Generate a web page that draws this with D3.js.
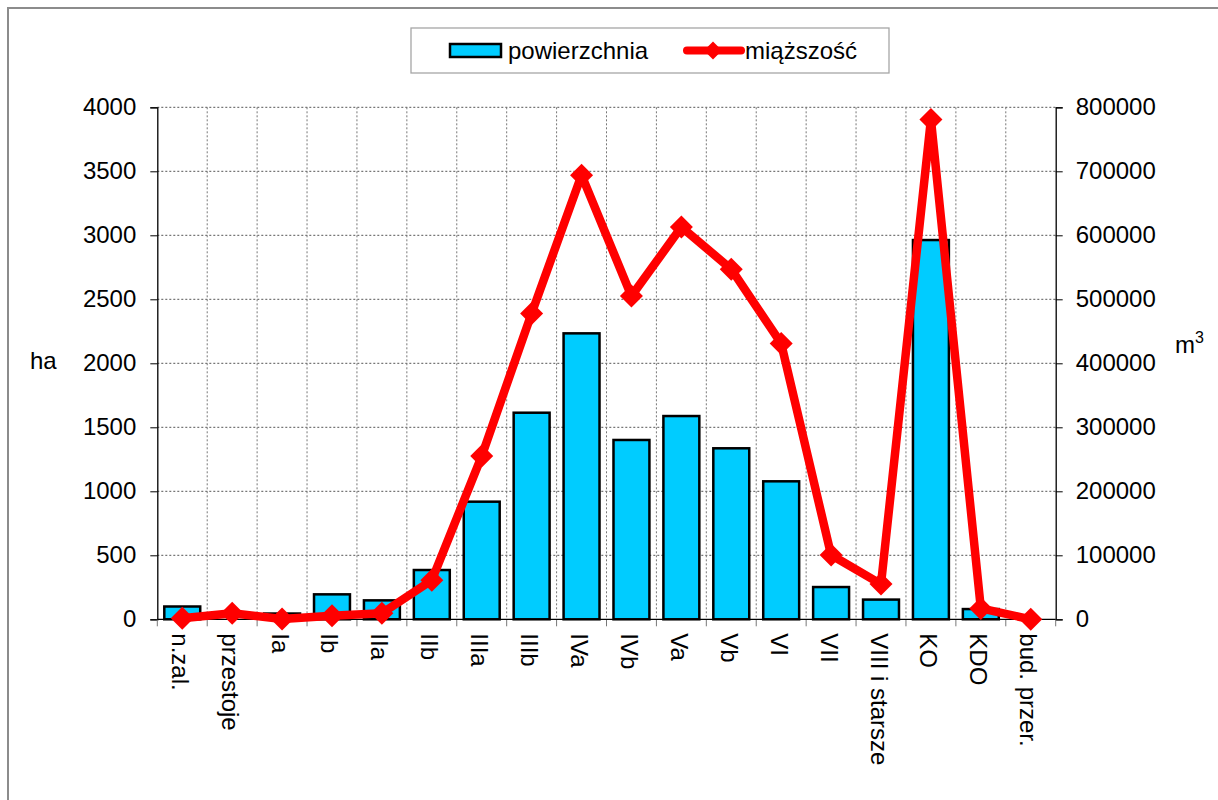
<!DOCTYPE html>
<html>
<head>
<meta charset="utf-8">
<script src="https://cdn.jsdelivr.net/npm/d3@7"></script>
<style>
  html, body { margin: 0; padding: 0; background: #fff; }
  svg { display: block; font-family: "Liberation Sans", Arial, sans-serif; }
</style>
</head>
<body>
<svg id="chart" width="1218" height="800"></svg>
<script>
// Age classes of the stand
const categories = ["n.zal.", "przestoje", "Ia", "Ib", "IIa", "IIb", "IIIa", "IIIb", "IVa",
  "IVb", "Va", "Vb", "VI", "VII", "VIII i starsze", "KO", "KDO", "bud. przer."];
// Area per class, ha
const areaHa = [100, 0, 45, 195, 148, 385, 919, 1614, 2234, 1401, 1588, 1336, 1078, 252, 154, 2963, 80, 0];
// Standing volume per class, m3
const volumeM3 = [1500, 9400, 500, 5600, 9400, 61000, 255000, 478000, 694000, 505000, 613000, 547000, 431000, 100500, 55000, 781000, 17000, 0];
// Axis ticks
const leftTicks = [0, 500, 1000, 1500, 2000, 2500, 3000, 3500, 4000];
const rightTicks = [0, 100000, 200000, 300000, 400000, 500000, 600000, 700000, 800000];
const legendLabels = ["powierzchnia", "miąższość"];

const svg = d3.select("#chart");
const plot = { left: 157.3, right: 1055.7, top: 107.3, bottom: 619.3 };
const FONT = 24;

// frame around the whole chart
svg.append("rect")
  .attr("x", 8).attr("y", 8).attr("width", 1230).attr("height", 820)
  .attr("fill", "none").attr("stroke", "#8c8c8c").attr("stroke-width", 2);

const x = d3.scaleBand().domain(categories).range([plot.left, plot.right]).padding(0);
const yL = d3.scaleLinear().domain([0, 4000]).range([plot.bottom, plot.top]);
const yR = d3.scaleLinear().domain([0, 800000]).range([plot.bottom, plot.top]);

// horizontal grid
svg.append("g").selectAll("line").data(leftTicks.filter(d => d > 0)).join("line")
  .attr("x1", plot.left).attr("x2", plot.right)
  .attr("y1", d => yL(d)).attr("y2", d => yL(d))
  .attr("stroke", "#555").attr("stroke-width", 1).attr("stroke-dasharray", "2,2");

// vertical grid at class boundaries
const bounds = categories.slice(1).map(c => x(c));
svg.append("g").selectAll("line").data(bounds).join("line")
  .attr("x1", d => d).attr("x2", d => d)
  .attr("y1", plot.top).attr("y2", plot.bottom)
  .attr("stroke", "#777").attr("stroke-width", 1).attr("stroke-dasharray", "2,2");

// left axis
const axL = svg.append("g").attr("transform", `translate(${plot.left},0)`)
  .call(d3.axisLeft(yL).tickValues(leftTicks).tickSize(7).tickPadding(14).tickFormat(d3.format("d")));
axL.select(".domain").attr("stroke", "#000").attr("stroke-width", 1.3);
axL.selectAll(".tick line").attr("stroke", "#000");
axL.selectAll("text").attr("font-size", FONT).attr("fill", "#000").attr("font-family", "Liberation Sans, Arial, sans-serif");

// right axis
const axR = svg.append("g").attr("transform", `translate(${plot.right},0)`)
  .call(d3.axisRight(yR).tickValues(rightTicks).tickSize(7).tickPadding(13).tickFormat(d3.format("d")));
axR.select(".domain").attr("stroke", "#000").attr("stroke-width", 1.3);
axR.selectAll(".tick line").attr("stroke", "#000");
axR.selectAll("text").attr("font-size", FONT).attr("fill", "#000").attr("font-family", "Liberation Sans, Arial, sans-serif");

// bottom axis: ticks at boundaries, rotated class labels
svg.append("g").selectAll("line").data([plot.left, ...bounds, plot.right]).join("line")
  .attr("x1", d => d).attr("x2", d => d)
  .attr("y1", plot.bottom).attr("y2", plot.bottom + 7)
  .attr("stroke", "#777").attr("stroke-width", 1);

svg.append("g").selectAll("text").data(categories).join("text")
  .attr("transform", d => `translate(${x(d) + x.bandwidth() / 2 - 2},${plot.bottom + 14}) rotate(90)`)
  .attr("text-anchor", "start").attr("dominant-baseline", "central")
  .attr("font-size", FONT).attr("fill", "#000")
  .text(d => d);

// bars: area
const barW = x.bandwidth() * 0.72;
svg.append("g").selectAll("rect").data(categories).join("rect")
  .attr("x", d => x(d) + (x.bandwidth() - barW) / 2)
  .attr("width", barW)
  .attr("y", (d, i) => yL(areaHa[i]))
  .attr("height", (d, i) => plot.bottom - yL(areaHa[i]))
  .attr("fill", "#00CCFF").attr("stroke", "#000").attr("stroke-width", 2.5)
  .attr("visibility", (d, i) => areaHa[i] > 0 ? "visible" : "hidden");

// x axis baseline
svg.append("line")
  .attr("x1", plot.left).attr("x2", plot.right)
  .attr("y1", plot.bottom).attr("y2", plot.bottom)
  .attr("stroke", "#000").attr("stroke-width", 1.3);

// line: volume
const cx = d => x(d) + x.bandwidth() / 2;
const line = d3.line().x(d => cx(d)).y((d, i) => yR(volumeM3[i]));
svg.append("path").datum(categories)
  .attr("d", line)
  .attr("fill", "none").attr("stroke", "#FF0000").attr("stroke-width", 8.5)
  .attr("stroke-linejoin", "round");

const diamond = r => `M0,${-r}L${r},0L0,${r}L${-r},0Z`;
svg.append("g").selectAll("path").data(categories).join("path")
  .attr("transform", (d, i) => `translate(${cx(d)},${yR(volumeM3[i])})`)
  .attr("d", diamond(11.5))
  .attr("fill", "#FF0000");

// axis titles
svg.append("text").attr("x", 30).attr("y", 369).attr("font-size", FONT).attr("fill", "#000").text("ha");
const m3 = svg.append("text").attr("x", 1175).attr("y", 353).attr("font-size", FONT).attr("fill", "#000");
m3.append("tspan").text("m");
m3.append("tspan").attr("font-size", 16).attr("dy", -10).text("3");

// legend
const lg = svg.append("g");
lg.append("rect").attr("x", 411).attr("y", 28).attr("width", 478).attr("height", 45)
  .attr("fill", "#fff").attr("stroke", "#a6a6a6").attr("stroke-width", 1.3);
lg.append("rect").attr("x", 450).attr("y", 44).attr("width", 51).attr("height", 13)
  .attr("fill", "#00CCFF").attr("stroke", "#000").attr("stroke-width", 2.5);
lg.append("text").attr("x", 508).attr("y", 59).attr("font-size", FONT).attr("fill", "#000").text(legendLabels[0]);
lg.append("line").attr("x1", 687).attr("x2", 741).attr("y1", 50.5).attr("y2", 50.5)
  .attr("stroke", "#FF0000").attr("stroke-width", 8).attr("stroke-linecap", "round");
lg.append("path").attr("transform", "translate(713,50.5)").attr("d", diamond(9)).attr("fill", "#FF0000");
lg.append("text").attr("x", 745).attr("y", 59).attr("font-size", FONT).attr("fill", "#000").text(legendLabels[1]);
</script>
</body>
</html>
